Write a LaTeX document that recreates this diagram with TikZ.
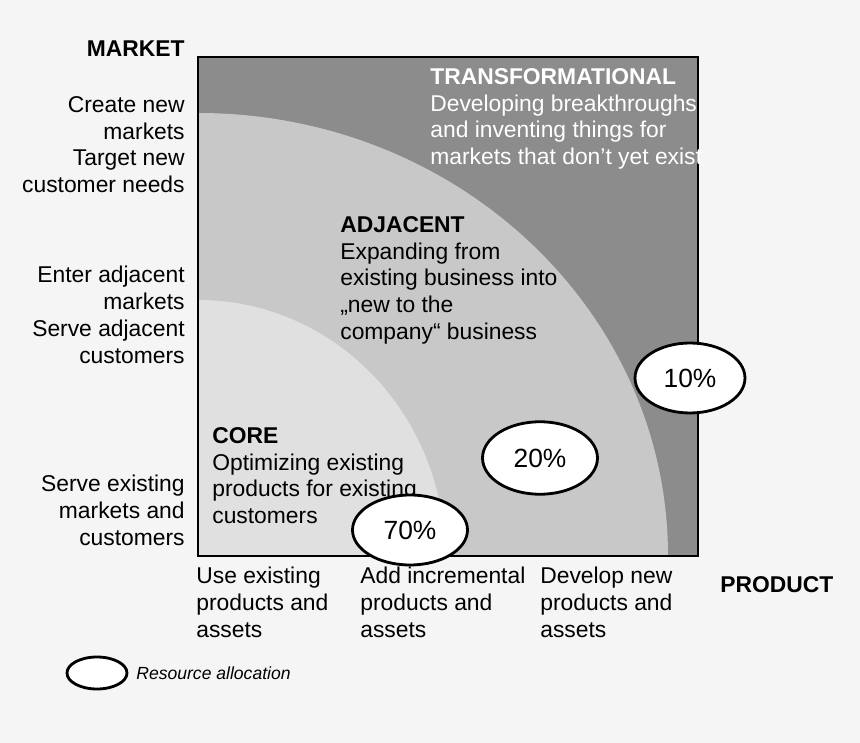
\documentclass[tikz,border=0pt]{standalone}
\usepackage{fontspec}
\usetikzlibrary{shapes.geometric}
\setmainfont{Liberation Sans}
\begin{document}
\begin{tikzpicture}[x=0.02cm,y=-0.02cm,
  txt/.style={inner sep=0pt,font=\fontsize{13}{15.2}\selectfont,align=left},
  rtxt/.style={txt,align=right,anchor=north east},
  ltxt/.style={txt,anchor=north west},
  pct/.style={draw=black,line width=1.6pt,fill=white,ellipse,minimum width=3.2cm,minimum height=2.05cm,inner sep=0pt,font=\fontsize{15}{18}\selectfont}]
\useasboundingbox (0,0) rectangle (860,743);
\fill[gray!8] (0,0) rectangle (860,743);
\fill[fill={rgb,255:red,140;green,140;blue,140}] (198,57) rectangle (698,556);
\fill[fill={rgb,255:red,200;green,200;blue,200}] (198,556) -- (198,113) arc[start angle=90,end angle=0,x radius=470,y radius=-443] -- cycle;
\fill[fill={rgb,255:red,224;green,224;blue,224}] (198,556) -- (198,300) arc[start angle=90,end angle=0,x radius=247,y radius=-256] -- cycle;
\draw[line width=1.6pt] (198,57) rectangle (698,556);
\node[ltxt,text=white] (t) at (430,68) {\textbf{TRANSFORMATIONAL}\\Developing breakthroughs\\and inventing things for\\markets that don’t yet exist};
\node[ltxt] (a) at (340,216) {\textbf{ADJACENT}\\Expanding from\\existing business into\\„new to the\\company“ business};
\node[ltxt] (c) at (212,427) {\textbf{CORE}\\Optimizing existing\\products for existing\\customers};
\node[rtxt] (m) at (185,40) {\textbf{MARKET}};
\node[rtxt] (m1) at (185,96) {Create new\\markets\\Target new\\customer needs};
\node[rtxt] (m2) at (185,266) {Enter adjacent\\markets\\Serve adjacent\\customers};
\node[rtxt] (m3) at (185,475) {Serve existing\\markets and\\customers};
\node[ltxt] (p1) at (196,567) {Use existing\\products and\\assets};
\node[ltxt] (p2) at (360,567) {Add incremental\\products and\\assets};
\node[ltxt] (p3) at (540,567) {Develop new\\products and\\assets};
\node[ltxt] (p) at (720,576) {\textbf{PRODUCT}};
\node[pct,minimum width=2.2cm,minimum height=1.4cm] (e10) at (690,378) {10\%};
\node[pct,minimum width=2.3cm,minimum height=1.45cm] (e20) at (540,458) {20\%};
\node[pct,minimum width=2.3cm,minimum height=1.4cm] (e70) at (410,530) {70\%};
\draw[line width=1.6pt,fill=white] (97,673) ellipse[x radius=30,y radius=16];
\node[ltxt,font=\fontsize{10}{12}\selectfont\itshape,anchor=west] (leg) at (136,673) {Resource allocation};
\end{tikzpicture}
\end{document}
